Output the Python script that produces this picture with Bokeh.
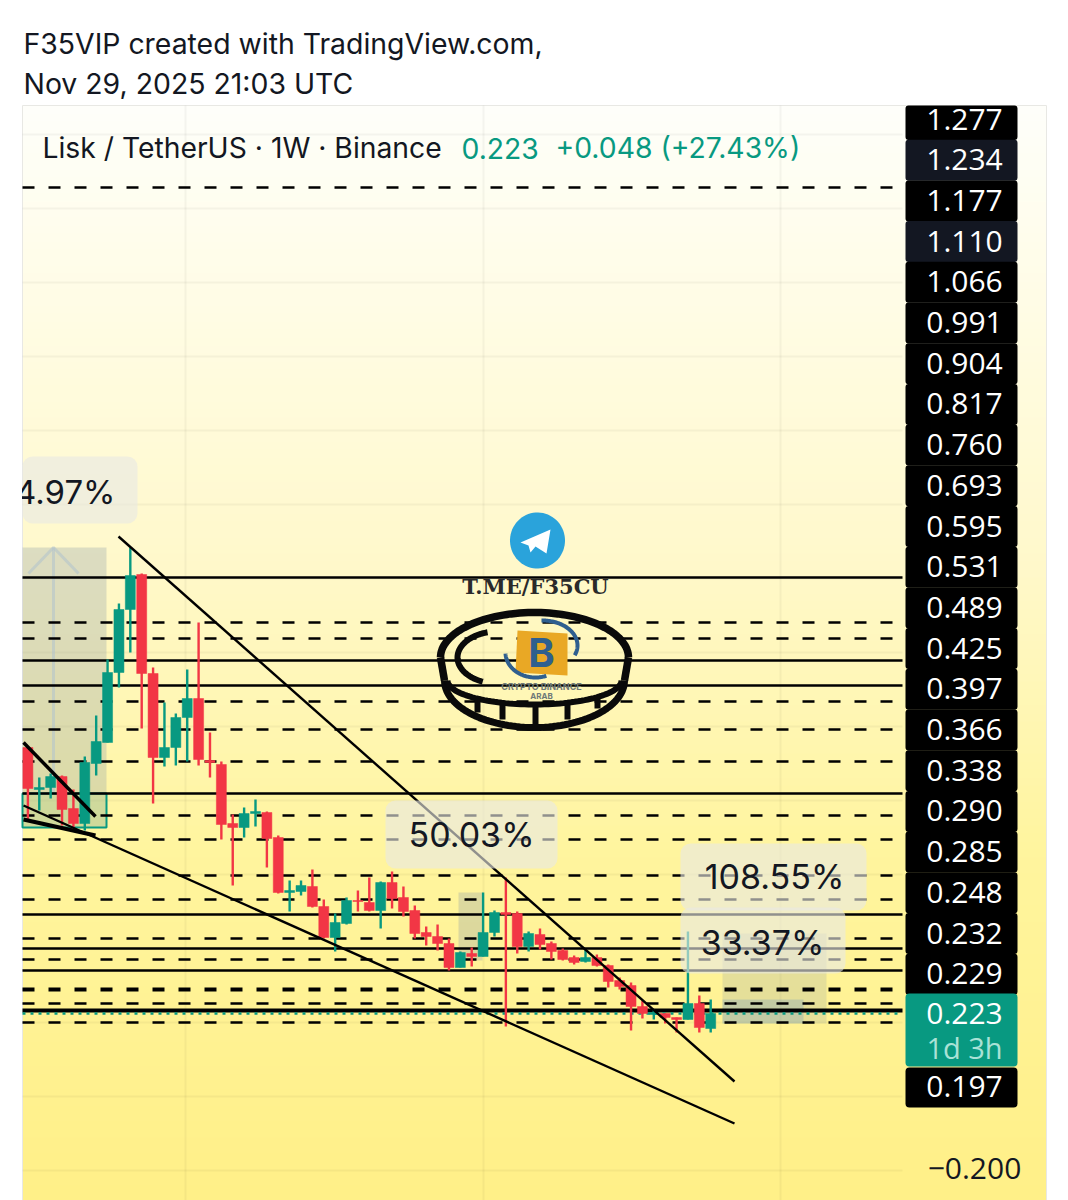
import numpy as np
from bokeh.plotting import figure
from bokeh.models import Range1d
from bokeh.core.properties import value
from bokeh.embed import file_html
from bokeh.resources import INLINE

# weekly candles, Lisk / TetherUS
opens  = [.488,.446,.448,.459,.427,.412,.472,.493,.563,.626,.661,.562,.478,.488,.518,.537,.475,.471,.412,.408,.422,.423,.398,.343,.344,.349,.329,.298,.312,.335,.333,.325,.353,.338,.325,.303,.299,.292,.268,.282,.279,.303,.323,.322,.289,.301,.292,.285,.278,.274,.278,.270,.255,.250,.229,.221,.222,.218,.216,.232,.207]
highs  = [.488,.458,.462,.460,.446,.479,.520,.576,.632,.688,.662,.568,.533,.522,.566,.613,.503,.474,.421,.428,.436,.424,.400,.355,.355,.366,.336,.322,.338,.345,.358,.354,.364,.349,.330,.309,.311,.297,.284,.288,.343,.325,.358,.324,.304,.307,.294,.287,.280,.286,.281,.271,.258,.253,.235,.226,.222,.218,.304,.240,.236]
lows   = [.415,.425,.437,.410,.406,.405,.460,.493,.548,.583,.507,.432,.469,.470,.474,.470,.458,.396,.350,.398,.409,.368,.342,.324,.340,.328,.297,.284,.311,.324,.324,.307,.327,.319,.297,.290,.285,.265,.268,.269,.279,.299,.209,.282,.284,.286,.276,.275,.271,.273,.269,.248,.246,.205,.217,.216,.212,.203,.216,.203,.203]
closes = [.447,.448,.459,.426,.412,.473,.494,.563,.626,.660,.562,.478,.488,.518,.537,.476,.473,.411,.408,.422,.424,.397,.343,.345,.350,.329,.298,.313,.335,.334,.325,.353,.337,.324,.302,.299,.292,.268,.283,.279,.303,.323,.321,.289,.302,.291,.284,.276,.273,.278,.270,.254,.249,.229,.222,.223,.218,.216,.232,.208,.222]

dashed_levels = [1.048,.613,.597,.534,.506,.474,.420,.396,.360,.336,.297,.276,.232,.213]
heavy_dashed_levels = [.246]
solid_levels = [.658,.575,.550,.442,.321,.287,.265]
heavy_solid_levels = [.225]
last_price = .222

axis_labels = ["1.277","1.234","1.177","1.110","1.066","0.991","0.904","0.817","0.760","0.693","0.595","0.531","0.489","0.425","0.397","0.366","0.338","0.290","0.285","0.248","0.232","0.229"]
navy_labels = ["1.234","1.110"]

GREEN, RED = "#089981", "#F23645"
FONT = "Inter"
AXF = "Open Sans"

SP = 11.38
fx = lambda px: (px - 27.4) / SP    # reference pixel -> bar index
fy = lambda py: 1.235 - py / 1000   # reference pixel -> price
fxs = lambda a: [fx(v) for v in a]
fys = lambda a: [fy(v) for v in a]

p = figure(width=1068, height=1200, x_range=Range1d(fx(0), fx(1068)), y_range=Range1d(fy(1200), fy(0)),
           toolbar_location=None, output_backend="svg", min_border=0, outline_line_color=None,
           x_axis_location=None, y_axis_location=None, background_fill_color="white")
p.grid.visible = False

def txt(px, py, s, color="#131722", size=28, align="left", font=FONT, style="normal"):
    p.text([fx(px)], [fy(py)], text=[s], text_color=color, text_font_size=f"{size}px", text_align=align,
           text_baseline="middle", text_font=value(font), text_font_style=style)

def box(x0, x1, y0, y1, fill, alpha=1.0, radius=0, line=None, lw=1):
    p.quad(left=[fx(x0)], right=[fx(x1)], top=[fy(y0)], bottom=[fy(y1)], fill_color=fill, fill_alpha=alpha,
           line_color=line, line_width=lw, border_radius=radius)

# panel gradient
stops_y = [105, 200, 550, 850, 1200]
stops_c = np.array([[254,254,250],[255,254,240],[255,249,204],[255,245,158],[255,240,136]])
for y0 in range(105, 1200, 8):
    c = [int(np.interp(y0, stops_y, stops_c[:, k])) for k in range(3)]
    box(22, 1046, y0, 1200, "#%02x%02x%02x" % tuple(c))
p.line(fxs([22,22,1046,1046]), fys([1200,105,105,1200]), line_color="#e8e8e4", line_width=1)

# grid
for gy in range(134, 1180, 74):
    p.line(fxs([22, 902]), fys([gy, gy]), line_color="#000000", line_alpha=0.04, line_width=2)
for gx in (185, 483, 780):
    p.line(fxs([gx, gx]), fys([105, 1200]), line_color="#000000", line_alpha=0.04, line_width=2)

# measure tools
box(22, 106, 547, 827, "#8a9ba8", 0.30)
p.line(fxs([53, 53]), fys([547, 793]), line_color="#b4c4cc", line_alpha=.6, line_width=3)
p.line(fxs([28, 53, 78]), fys([573, 547, 573]), line_color="#b4c4cc", line_alpha=.6, line_width=3)
box(22, 106, 793, 827, "#b7d88a", 0.35, line=GREEN, lw=2)
box(458, 482, 892, 960, "#8a9ba8", 0.30)
box(722, 826, 933, 1023, "#8a9ba8", 0.22)
box(722, 803, 999, 1023, "#5b8fc9", 0.25)

# levels
x_lv = fxs([22, 902])
for lv in dashed_levels:
    p.line(x_lv, [lv, lv], line_color="black", line_width=2.4, line_dash="12 14")
for lv in heavy_dashed_levels:
    p.line(x_lv, [lv, lv], line_color="black", line_width=4, line_dash="12 14")
for lv in solid_levels:
    p.line(x_lv, [lv, lv], line_color="black", line_width=2.4)
for lv in heavy_solid_levels:
    p.line(x_lv, [lv, lv], line_color="black", line_width=4)
p.line(x_lv, [last_price, last_price], line_color=GREEN, line_width=2.5, line_dash="3 5")

# candles
idx = np.arange(len(opens))
cols = [GREEN if c >= o else RED for o, c in zip(opens, closes)]
p.segment(idx, highs, idx, lows, line_color=cols, line_width=2.4)
p.vbar(x=idx, width=10/SP, top=[max(o, c) for o, c in zip(opens, closes)],
       bottom=[min(o, c) for o, c in zip(opens, closes)], fill_color=cols, line_color=cols, line_width=0.5)

# trend lines
p.line(fxs([118, 734]), fys([536, 1081]), line_color="black", line_width=2.4)
p.line(fxs([23, 734]), fys([805, 1123]), line_color="black", line_width=2.4)
p.line(fxs([23, 95]), fys([742, 816]), line_color="black", line_width=3.5)
p.line(fxs([23, 95]), fys([819, 835]), line_color="black", line_width=4)

def ell(cx, cy, rx, ry, a0=0, a1=2*np.pi):
    a = np.linspace(a0, a1, 70)
    return fxs(cx + rx*np.cos(a)), fys(cy + ry*np.sin(a))

# telegram badge
xs, ys = ell(537, 540, 27.5, 28)
p.patch(xs, ys, fill_color="#2AA3DB", line_color=None)
p.patch(fxs([520, 550, 546, 535, 530, 528]), fys([542, 529, 553, 546, 552, 545]), fill_color="white", line_color=None)
txt(535, 586, "T.ME/F35CU", color="#2a2a2a", size=21, align="center", font="DejaVu Serif", style="bold")

# coin
INK = "#0a0a0a"
xs, ys = ell(534, 657, 94, 45, np.pi, 2*np.pi)
p.line(xs, ys, line_color=INK, line_width=7.5)
p.line(fxs([440, 444]), fys([657, 680]), line_color=INK, line_width=7.5)
p.line(fxs([628, 624]), fys([657, 680]), line_color=INK, line_width=7.5)
xs, ys = ell(534, 680, 90, 47, 0, np.pi)
p.line(xs, ys, line_color=INK, line_width=7)
xs, ys = ell(534, 680, 87, 24, 0, np.pi)
p.line(xs, ys, line_color=INK, line_width=6)
xs, ys = ell(497, 657, 40, 26, np.pi*0.62, np.pi*1.42)
p.line(xs, ys, line_color=INK, line_width=6)
for a, b, c in [(477,700,712),(502,703,719),(535,705,724),(567,703,719),(597,695,708)]:
    p.line(fxs([a, a]), fys([b, c]), line_color=INK, line_width=6)
p.patch(fxs([517, 567, 567, 515]), fys([630, 633, 675, 672]), fill_color="#E9A825", line_color=None)
S = "#2f5f8f"
p.line(*ell(542, 645, 35, 25, -1.6, 0.4), line_color=S, line_width=4)
p.line(*ell(535, 652, 30, 25, 1.2, 3.1), line_color=S, line_width=4)
txt(541, 652, "B", color=S, size=40, align="center", style="bold")
txt(541, 686, "CRYPTO BINANCE", color="#6f7a78", size=9, align="center", style="bold")
txt(541, 695, "ARAB", color="#6f7a78", size=8, align="center", style="bold")

# change bubbles
for x0, x1, y0, y1, s, cx, cy, a in [(22,137,456,523,"4.97%",115,491,"right"), (385,557,800,868,"50.03%",471,834,"center"),
                                   (680,866,843,910,"108.55%",774,876,"center"), (680,845,907,973,"33.37%",762,942,"center")]:
    box(x0, x1, y0, y1, "#e9e9e4", 0.62, radius=10)
    txt(cx, cy, s, size=34 if x0 != 22 else 33, align=a)
box(0, 21.5, 456, 523, "#ffffff")

# price scale
for i, s in enumerate(axis_labels):
    cy = 119 + 40.7*i
    box(905, 1017, max(cy-20.5, 105), cy+20.5, "#131722" if s in navy_labels else "#000000", radius=3)
    txt(964, cy-0.5, s, color="white", size=30, align="center", font=AXF)
box(905, 1017, 993, 1066, GREEN, radius=4)
txt(964, 1013, "0.223", color="white", size=30, align="center", font=AXF)
txt(964, 1047, "1d 3h", color="#a9e2d6", size=29, align="center", font=AXF)
box(905, 1017, 1067, 1107, "#000000", radius=4)
txt(964, 1086, "0.197", color="white", size=30, align="center", font=AXF)
txt(974, 1168, "\u22120.200", size=30, align="center", font=AXF)

# legend
txt(42, 147.5, "Lisk / TetherUS \u00b7 1W \u00b7 Binance", size=28.3)
txt(461, 147.5, "0.223", color=GREEN, size=28.3)
txt(555, 147.5, "+0.048 (+27.43%)", color=GREEN, size=28.3)

# header
txt(23, 42.5, "F35VIP created with TradingView.com,", size=28.4)
txt(23, 82.5, "Nov 29, 2025 21:03 UTC", size=28.4)

open("out.html", "w").write(file_html(p, INLINE))
